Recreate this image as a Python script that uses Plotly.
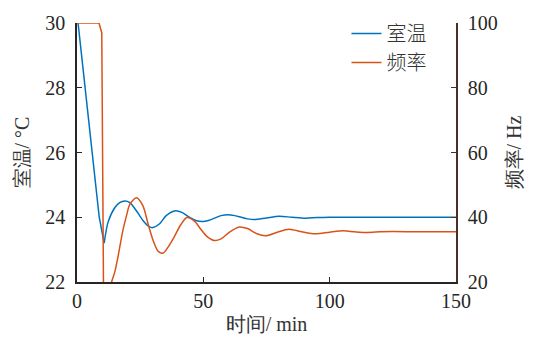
import plotly.graph_objects as go

# Room temperature (°C) vs time (min)
temp_t1 = [0, 3.3, 5.9, 8.8, 10.75]
temp_v1 = [30.3, 28.0, 26.0, 24.0, 23.2]
temp_t2 = [10.75, 12.3, 15.0, 16.9, 18.9, 20.9, 23.5, 26.1, 28.7, 30.0, 32.7, 35.3, 39.0,
           41.5, 44.5, 47.0, 49.8, 52.0, 54.7, 57.0, 59.7, 62.5, 65.0, 67.5, 70.2, 75.0,
           80.0, 85.0, 90.5, 95.0, 100.0, 110.0, 120.0, 130.0, 140.0, 150.0]
temp_v2 = [23.2, 23.85, 24.3, 24.45, 24.5, 24.45, 24.2, 23.9, 23.7, 23.68, 23.8, 24.05, 24.2,
           24.15, 24.0, 23.9, 23.87, 23.9, 23.98, 24.05, 24.08, 24.05, 24.0, 23.95, 23.93, 23.98,
           24.03, 24.0, 23.97, 23.99, 24.0, 24.0, 24.0, 24.0, 24.0, 24.0]

# Compressor frequency (Hz) vs time (min)
freq_t1 = [0, 8.7, 9.8, 10.6]
freq_v1 = [100, 100, 97, 5]
freq_t2 = [10.6, 12.0, 13.7, 15.0, 16.3, 18.2, 19.6, 20.9, 23.5, 26.1, 28.1, 30.0, 32.0, 34.0,
           35.9, 38.6, 41.0, 43.5, 46.5, 49.0, 51.5, 54.3, 57.0, 60.5, 64.2, 67.5, 71.0, 74.7,
           79.0, 83.9, 89.0, 94.4, 100.0, 105.5, 110.0, 115.0, 120.0, 125.0, 135.0, 150.0]
freq_v2 = [5, 14, 20, 23.2, 28.1, 36.1, 40.5, 44.0, 46.0, 43.5, 38.0, 33.1, 29.6, 28.9,
           30.6, 34.1, 37.6, 39.9, 38.8, 36.3, 34.0, 32.8, 33.3, 35.5, 37.0, 36.5, 35.0, 34.3,
           35.3, 36.3, 35.5, 34.9, 35.4, 35.8, 35.5, 35.3, 35.5, 35.6, 35.5, 35.5]

x_ticks = [0, 50, 100, 150]
y1_ticks = [22, 24, 26, 28, 30]
y2_ticks = [20, 40, 60, 80, 100]

BLUE = "#0072BD"
RED = "#D95319"
AX = "#262626"
AX2 = "#4a2e28"
SERIF = "Times New Roman, Liberation Serif, DejaVu Serif, serif"
TITLE_FONT = dict(size=20, family=SERIF, color="#333333")

fig = go.Figure()
fig.add_trace(go.Scatter(x=temp_t1, y=temp_v1, mode="lines", name="室温", legendgroup="t",
                         line=dict(color=BLUE, width=1.5)))
fig.add_trace(go.Scatter(x=temp_t2, y=temp_v2, mode="lines", name="室温", legendgroup="t",
                         showlegend=False, line=dict(color=BLUE, width=1.5, shape="spline", smoothing=0.8)))
fig.add_trace(go.Scatter(x=freq_t1, y=freq_v1, mode="lines", name="频率", legendgroup="f",
                         yaxis="y2", line=dict(color=RED, width=1.5)))
fig.add_trace(go.Scatter(x=freq_t2, y=freq_v2, mode="lines", name="频率", legendgroup="f",
                         showlegend=False, yaxis="y2",
                         line=dict(color=RED, width=1.5, shape="spline", smoothing=0.8)))

fig.update_layout(
    width=534, height=344,
    margin=dict(l=77, r=77, t=15, b=60),
    paper_bgcolor="white", plot_bgcolor="white",
    font=dict(family=SERIF, size=20, color=AX),
    showlegend=True,
    legend=dict(x=0.711, y=1.035, xanchor="left", yanchor="top",
                bgcolor="rgba(0,0,0,0)", borderwidth=0,
                font=dict(family="Noto Sans CJK SC", size=20, color="#333333", weight=300),
                tracegroupgap=0),
    xaxis=dict(range=[0, 150], tickvals=x_ticks, ticks="inside", ticklen=5, tickwidth=1,
               tickcolor=AX, showline=True, linecolor=AX, linewidth=1.5, showgrid=False,
               zeroline=False, mirror=False, tickfont=dict(family=SERIF, size=20, color=AX),
               title=dict(text="时间/ min", font=TITLE_FONT, standoff=6)),
    yaxis=dict(range=[22, 30], tickvals=y1_ticks, ticks="inside", ticklen=5, tickwidth=1,
               tickcolor=AX, showline=True, linecolor=AX, linewidth=1.5, showgrid=False,
               zeroline=False, ticklabelstandoff=6, tickfont=dict(family=SERIF, size=20, color=AX),
               title=dict(text="室温/ °C", font=TITLE_FONT, standoff=10)),
    yaxis2=dict(range=[20, 100], tickvals=y2_ticks, overlaying="y", side="right",
                ticks="inside", ticklen=5, tickwidth=1, tickcolor=AX2,
                showline=True, linecolor=AX2, linewidth=1.5, showgrid=False, zeroline=False,
                ticklabelstandoff=6, tickfont=dict(family=SERIF, size=20, color=AX),
                title=dict(text="频率/ Hz", font=TITLE_FONT, standoff=10)),
)

fig.write_html("out.html")
